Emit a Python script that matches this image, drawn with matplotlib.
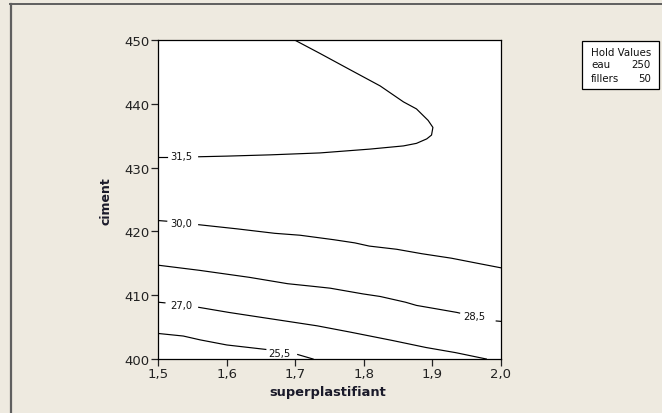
import matplotlib
matplotlib.use("Agg")
import matplotlib.pyplot as plt
from matplotlib.lines import Line2D
from matplotlib.patches import Rectangle

# ---- data ----
x_ticks = [1.5, 1.6, 1.7, 1.8, 1.9, 2.0]
x_ticklabels = ["1,5", "1,6", "1,7", "1,8", "1,9", "2,0"]
y_ticks = [400, 410, 420, 430, 440, 450]
y_ticklabels = ["400", "410", "420", "430", "440", "450"]

# contour 31,5 (label at left edge)
c315_x = [1.699, 1.736, 1.779, 1.824, 1.858, 1.877, 1.894, 1.901, 1.899, 1.892,
          1.877, 1.858, 1.809, 1.736, 1.664, 1.600, 1.559]
c315_y = [450.0, 447.9, 445.4, 442.8, 440.3, 439.2, 437.4, 436.3, 435.1, 434.5,
          433.8, 433.4, 432.9, 432.3, 432.0, 431.8, 431.7]
c315_dash_x = [1.5, 1.5123]
c315_dash_y = [431.7, 431.7]
c315_label = (1.534, 431.75)

# contour 30,0
c300_x = [1.559, 1.615, 1.670, 1.707, 1.756, 1.787, 1.808, 1.848, 1.885, 1.928, 1.971, 2.0]
c300_y = [421.05, 420.4, 419.7, 419.4, 418.7, 418.2, 417.7, 417.2, 416.5, 415.8, 414.9, 414.3]
c300_dash_x = [1.5, 1.5123]
c300_dash_y = [421.7, 421.6]
c300_label = (1.534, 421.3)

# contour 28,5 (label at right edge)
c285_x = [1.5, 1.560, 1.633, 1.689, 1.725, 1.751, 1.799, 1.824, 1.861, 1.877, 1.904, 1.936, 1.940]
c285_y = [414.7, 413.9, 412.8, 411.8, 411.4, 411.1, 410.2, 409.8, 408.9, 408.4, 407.9, 407.3, 407.2]
c285_dash_x = [1.9935, 2.0]
c285_dash_y = [405.96, 405.9]
c285_label = (1.9617, 406.7)

# contour 27,0
c270_x = [1.559, 1.603, 1.652, 1.689, 1.732, 1.781, 1.842, 1.891, 1.934, 1.979]
c270_y = [408.1, 407.3, 406.5, 405.9, 405.2, 404.2, 402.9, 401.8, 401.0, 400.0]
c270_dash_x = [1.5, 1.5097]
c270_dash_y = [408.9, 408.8]
c270_label = (1.534, 408.5)

# contour 25,5
c255_x = [1.5, 1.5365, 1.561, 1.600, 1.657]
c255_y = [404.0, 403.6, 403.0, 402.2, 401.5]
c255_dash_x = [1.7036, 1.726]
c255_dash_y = [400.7, 400.0]
c255_label = (1.677, 401.0)

contour_labels = ["31,5", "30,0", "28,5", "27,0", "25,5"]

hold_names = ["eau", "fillers"]
hold_values = ["250", "50"]

# ---- figure ----
W, H = 662, 414
fig = plt.figure(figsize=(W / 100, H / 100), dpi=100)
bg = "#EEEAE0"
fig.patch.set_facecolor(bg)

ax = fig.add_axes([158.3 / W, 1 - 360 / H, (500.7 - 158.3) / W, (360 - 41) / H])
ax.set_facecolor("white")
ax.set_xlim(1.5, 2.0)
ax.set_ylim(400, 450)

lc = "black"
lw = 0.85
segments = [
    (c315_x, c315_y), (c315_dash_x, c315_dash_y),
    (c300_x, c300_y), (c300_dash_x, c300_dash_y),
    (c285_x, c285_y), (c285_dash_x, c285_dash_y),
    (c270_x, c270_y), (c270_dash_x, c270_dash_y),
    (c255_x, c255_y), (c255_dash_x, c255_dash_y),
]
for sx, sy in segments:
    ax.plot(sx, sy, color=lc, lw=lw, solid_joinstyle="round", clip_on=True)

label_pos = [c315_label, c300_label, c285_label, c270_label, c255_label]
for txt, (lx, ly) in zip(contour_labels, label_pos):
    ax.text(lx, ly, txt, fontsize=7.2, ha="center", va="center", color="#111111")

ax.set_xticks(x_ticks)
ax.set_xticklabels(x_ticklabels)
ax.set_yticks(y_ticks)
ax.set_yticklabels(y_ticklabels)
ax.tick_params(direction="out", length=5, width=0.9, labelsize=9.5,
               colors="#222222", pad=1.5)
ax.tick_params(axis="x", pad=1.0)
for sp in ax.spines.values():
    sp.set_color("black")
    sp.set_linewidth(0.9)

ax.set_xlabel("superplastifiant", fontsize=9.4, fontweight="bold",
              color="#1a1a2a", labelpad=2)
ax.set_ylabel("ciment", fontsize=9.0, fontweight="bold", color="#1a1a2a",
              labelpad=12)
ax.xaxis.set_label_coords((327.7 - 158.3) / (500.7 - 158.3), -(392.3 - 360) / (360 - 41))
ax.xaxis.label.set_va("center")
ax.yaxis.set_label_coords(-(158.3 - 106) / (500.7 - 158.3), (360 - 201.5) / (360 - 41))
ax.yaxis.label.set_va("center")

# Hold Values box
bx0, bx1, by0, by1 = 582, 659, 42, 90
fig.add_artist(Rectangle((bx0 / W, 1 - by1 / H), (bx1 - bx0) / W, (by1 - by0) / H,
                         transform=fig.transFigure, facecolor="white",
                         edgecolor="black", lw=0.9))
fs = 7.4
fig.text(591 / W, 1 - 52.7 / H, "Hold Values", fontsize=fs, va="center", ha="left",
         color="#111111")
row_y = [65.5, 79.5]
for name, val, ry in zip(hold_names, hold_values, row_y):
    fig.text(591 / W, 1 - ry / H, name, fontsize=fs, va="center", ha="left", color="#111111")
    fig.text(651 / W, 1 - ry / H, val, fontsize=fs, va="center", ha="right", color="#111111")

# outer frame lines (left and top)
fig.add_artist(Line2D([11 / W, 11 / W], [0, 1 - 4.5 / H], transform=fig.transFigure,
                      color="#5f5f5f", lw=1.6))
fig.add_artist(Line2D([10 / W, 1], [1 - 4.5 / H, 1 - 4.5 / H], transform=fig.transFigure,
                      color="#5f5f5f", lw=1.4))

fig.savefig("out.png", dpi=100, facecolor=bg)
